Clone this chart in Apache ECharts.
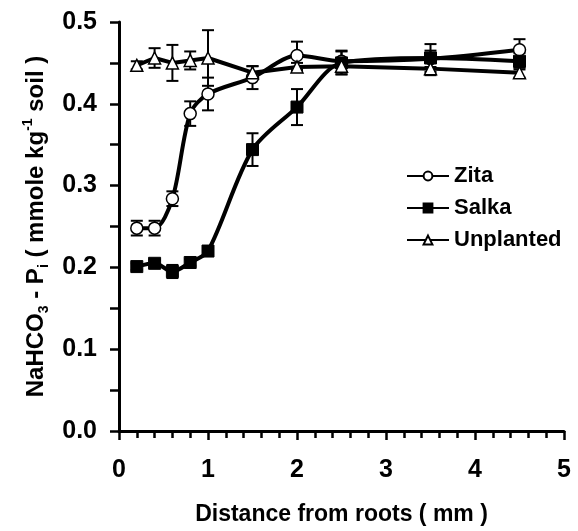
<!DOCTYPE html>
<html>
<head>
<meta charset="utf-8">
<script src="https://cdn.jsdelivr.net/npm/echarts@6/dist/echarts.min.js"></script>
<style>
  html, body { margin: 0; padding: 0; background: #fff; }
  #main { width: 578px; height: 531px; }
</style>
</head>
<body>
<div id="main"></div>
<script>
// distance from roots (mm)
var xs = [0.2, 0.4, 0.6, 0.8, 1.0, 1.5, 2.0, 2.5, 3.5, 4.5];
// NaHCO3-Pi values and error bars
var zita = [0.248, 0.248, 0.284, 0.388, 0.412, 0.432, 0.459, 0.452, 0.455, 0.466];
var zitaErr = [0.009, 0.009, 0.009, 0.015, 0.020, 0.014, 0.017, 0.013, 0.010, 0.013];
var salka = [0.201, 0.205, 0.195, 0.206, 0.220, 0.344, 0.396, 0.450, 0.456, 0.452];
var salkaErr = [0.004, 0.004, 0.008, 0.004, 0.006, 0.020, 0.022, 0.014, 0.017, 0.010];
var unplanted = [0.447, 0.456, 0.450, 0.453, 0.456, 0.438, 0.445, 0.446, 0.443, 0.438];
var unplantedErr = [0.005, 0.012, 0.022, 0.011, 0.034, 0.008, 0.005, 0.010, 0.008, 0.006];
var xTicks = ['0', '1', '2', '3', '4', '5'];
var yTicks = ['0.0', '0.1', '0.2', '0.3', '0.4', '0.5'];

var font = "'Liberation Sans', Arial, sans-serif";

function pairs(ys) {
  var out = [];
  for (var i = 0; i < xs.length; i++) {
    out.push([xs[i], ys[i]]);
  }
  return out;
}

function errData(ys, es) {
  var out = [];
  for (var i = 0; i < xs.length; i++) {
    out.push([xs[i], ys[i] - es[i], ys[i] + es[i]]);
  }
  return out;
}

function renderErr(params, api) {
  var x = api.value(0);
  var top = api.coord([x, api.value(2)]);
  var bot = api.coord([x, api.value(1)]);
  var w = 6;
  var style = { stroke: '#000', lineWidth: 2 };
  return {
    type: 'group',
    children: [
      { type: 'line', shape: { x1: top[0], y1: top[1], x2: bot[0], y2: bot[1] }, style: style },
      { type: 'line', shape: { x1: top[0] - w, y1: top[1], x2: top[0] + w, y2: top[1] }, style: style },
      { type: 'line', shape: { x1: bot[0] - w, y1: bot[1], x2: bot[0] + w, y2: bot[1] }, style: style }
    ]
  };
}

function errSeries(ys, es) {
  return {
    type: 'custom',
    renderItem: renderErr,
    data: errData(ys, es),
    encode: { x: 0, y: [1, 2] },
    z: 1,
    silent: true
  };
}

var chart = echarts.init(document.getElementById('main'));
chart.setOption({
  animation: false,
  grid: { left: 119, right: 14, top: 22, bottom: 99 },
  legend: {
    data: ['Zita', 'Salka', 'Unplanted'],
    orient: 'vertical',
    left: 401,
    top: 160,
    itemWidth: 42,
    itemHeight: 11,
    itemGap: 10,
    textStyle: { fontFamily: font, fontWeight: 'bold', fontSize: 22, color: '#000', lineHeight: 22 }
  },
  xAxis: {
    type: 'value',
    min: 0,
    max: 5,
    interval: 1,
    name: 'Distance from roots ( mm )',
    nameLocation: 'middle',
    nameGap: 72,
    nameTextStyle: { fontFamily: font, fontWeight: 'bold', fontSize: 23, color: '#000' },
    axisLine: { lineStyle: { color: '#000', width: 3 } },
    axisTick: { inside: false, length: 9, lineStyle: { color: '#000', width: 2.5 } },
    minorTick: { show: true, splitNumber: 5, length: 7, lineStyle: { color: '#000', width: 2.5 } },
    axisLabel: {
      margin: 27,
      fontFamily: font, fontWeight: 'bold', fontSize: 25, color: '#000',
      formatter: function (v) { return xTicks[Math.round(v)]; }
    },
    splitLine: { show: false }
  },
  yAxis: {
    type: 'value',
    min: 0,
    max: 0.5,
    interval: 0.1,
    name: 'NaHCO{sub|3} - P{sub|i} ( mmole kg{sup|-1} soil )',
    nameLocation: 'middle',
    nameGap: 68,
    nameTextStyle: {
      fontFamily: font, fontWeight: 'bold', fontSize: 24, color: '#000', lineHeight: 30,
      rich: {
        sub: { fontFamily: font, fontWeight: 'bold', fontSize: 14, color: '#000', verticalAlign: 'bottom', lineHeight: 30 },
        sup: { fontFamily: font, fontWeight: 'bold', fontSize: 14, color: '#000', verticalAlign: 'top', lineHeight: 30 }
      }
    },
    axisLine: { show: true, lineStyle: { color: '#000', width: 3 } },
    axisTick: { show: true, length: 9, lineStyle: { color: '#000', width: 2.5 } },
    minorTick: { show: true, splitNumber: 2, length: 9, lineStyle: { color: '#000', width: 2.5 } },
    axisLabel: {
      margin: 22,
      fontFamily: font, fontWeight: 'bold', fontSize: 25, color: '#000',
      formatter: function (v) { return yTicks[Math.round(v * 10)]; }
    },
    splitLine: { show: false }
  },
  series: [
    errSeries(zita, zitaErr),
    errSeries(salka, salkaErr),
    errSeries(unplanted, unplantedErr),
    {
      name: 'Zita',
      type: 'line',
      data: pairs(zita),
      smooth: 0.3,
      symbol: 'circle',
      symbolSize: 12,
      z: 3,
      lineStyle: { color: '#000', width: 4 },
      itemStyle: { color: '#fff', borderColor: '#000', borderWidth: 1.5 }
    },
    {
      name: 'Salka',
      type: 'line',
      data: pairs(salka),
      smooth: 0.3,
      symbol: 'rect',
      symbolSize: 12,
      z: 3,
      lineStyle: { color: '#000', width: 4 },
      itemStyle: { color: '#000', borderColor: '#000', borderWidth: 1 }
    },
    {
      name: 'Unplanted',
      type: 'line',
      data: pairs(unplanted),
      symbol: 'triangle',
      symbolSize: 12,
      z: 3,
      lineStyle: { color: '#000', width: 4 },
      itemStyle: { color: '#fff', borderColor: '#000', borderWidth: 1.5 }
    }
  ]
});
</script>
</body>
</html>
